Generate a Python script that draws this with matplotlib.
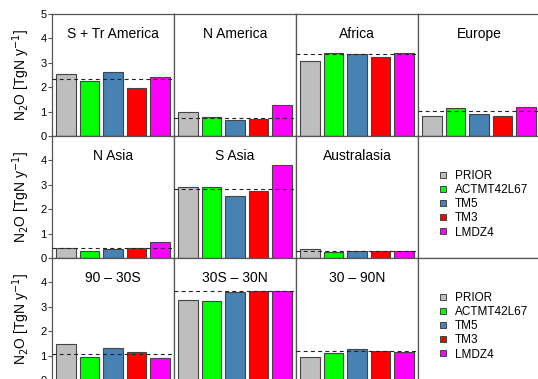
import matplotlib.pyplot as plt
from matplotlib.lines import Line2D

plt.rcParams['font.family'] = ['Liberation Sans', 'DejaVu Sans']

# Data
models = ['PRIOR', 'ACTMT42L67', 'TM5', 'TM3', 'LMDZ4']
colors = ['#BEBEBE', '#00FF00', '#4682B4', '#FF0000', '#FF00FF']

regions = ['S + Tr America', 'N America', 'Africa', 'Europe',
           'N Asia', 'S Asia', 'Australasia',
           '90 \u2013 30S', '30S \u2013 30N', '30 \u2013 90N']
emissions = [
    [2.54, 2.25, 2.64, 1.98, 2.40],
    [0.98, 0.78, 0.66, 0.70, 1.27],
    [3.07, 3.40, 3.35, 3.22, 3.39],
    [0.81, 1.15, 0.91, 0.83, 1.19],
    [0.40, 0.29, 0.38, 0.41, 0.66],
    [2.91, 2.92, 2.54, 2.75, 3.80],
    [0.38, 0.25, 0.29, 0.29, 0.30],
    [1.46, 0.94, 1.32, 1.16, 0.90],
    [3.28, 3.22, 3.62, 3.66, 3.66],
    [0.93, 1.09, 1.28, 1.20, 1.13],
]
reference = [2.34, 0.72, 3.38, 1.02, 0.40, 2.83, 0.30, 1.05, 3.63, 1.19]

# panel slots (row, col) for each region
slots = [(0, 0), (0, 1), (0, 2), (0, 3),
         (1, 0), (1, 1), (1, 2),
         (2, 0), (2, 1), (2, 2)]

W, H = 538, 379
fig = plt.figure(figsize=(W / 100, H / 100), dpi=100)

x0, y0, pw, ph = 52, 14, 122, 122
frame_col = '#555555'


def make_ax(row, col):
    left = (x0 + col * pw) / W
    bottom = (H - (y0 + (row + 1) * ph)) / H
    ax = fig.add_axes([left, bottom, pw / W, ph / H])
    for s in ax.spines.values():
        s.set_color(frame_col)
        s.set_linewidth(0.9)
    return ax


pos = [0.2 + 1.2 * i + 0.5 for i in range(5)]

for k, name in enumerate(regions):
    row, col = slots[k]
    ax = make_ax(row, col)
    ax.bar(pos, emissions[k], width=1.0, color=colors,
           edgecolor='#444444', linewidth=0.8, zorder=2)
    ax.axhline(reference[k], color='#222222', linestyle=(0, (3.5, 3)),
               linewidth=0.8, zorder=3)
    ax.set_xlim(0, 6.2)
    ax.set_ylim(0, 5)
    ax.set_xticks([])
    ax.text(0.5, 0.84, name, transform=ax.transAxes, ha='center',
            va='center', fontsize=10)
    if col == 0:
        ax.set_yticks([0, 1, 2, 3, 4, 5] if row == 0 else [0, 1, 2, 3, 4])
        ax.tick_params(axis='y', length=3, width=0.8, color=frame_col,
                       labelsize=8, pad=1)
        ax.set_ylabel('N$_2$O [TgN y$^{-1}$]', fontsize=10, labelpad=6)
    else:
        ax.set_yticks([])

# legend panels
for row in (1, 2):
    ax = make_ax(row, 3)
    ax.set_xticks([])
    ax.set_yticks([])
    handles = [Line2D([], [], marker='s', linestyle='none', markersize=4.5,
                      markerfacecolor=c, markeredgecolor='#444444',
                      markeredgewidth=0.7) for c in colors]
    ax.legend(handles, models, loc='center left', bbox_to_anchor=(0.12, 0.44),
              frameon=False, fontsize=8.5, handlelength=0.8,
              handletextpad=0.6, labelspacing=0.18, borderpad=0)

fig.savefig('out.png', dpi=100)
